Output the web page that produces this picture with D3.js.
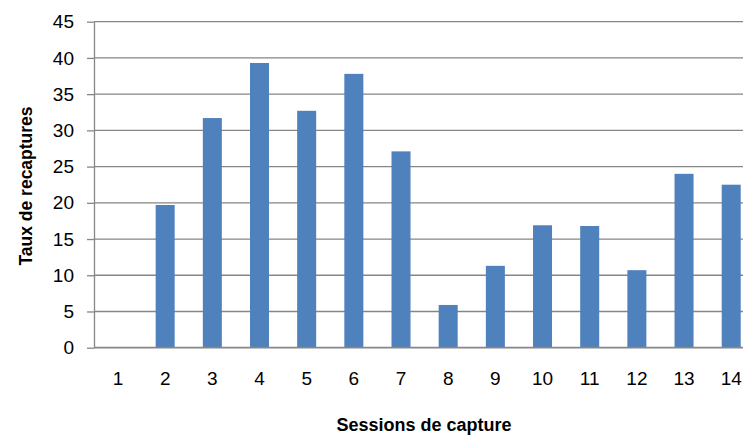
<!DOCTYPE html>
<html><head><meta charset="utf-8">
<script src="https://cdn.jsdelivr.net/npm/d3@7"></script>
<style>body{margin:0;background:#fff}svg{display:block}</style>
</head><body>
<script>
const categories = ["1","2","3","4","5","6","7","8","9","10","11","12","13","14"];
const values = [0,19.7,31.7,39.3,32.7,37.8,27.1,5.9,11.3,16.9,16.8,10.7,24.0,22.5];
const yTicks = [0,5,10,15,20,25,30,35,40,45];
const xTitle = "Sessions de capture";
const yTitle = "Taux de recaptures";

const W = 755, H = 435;
const m = {left:94, right:12, top:21.7, bottom:87.3};
const svg = d3.select("body").append("svg").attr("width",W).attr("height",H);
const x = d3.scaleBand().domain(categories).range([94.4, 754.8]).paddingInner(0.597).paddingOuter(0.2985);
const y = d3.scaleLinear().domain([0,45]).range([H-m.bottom, m.top]);
const grid = "#868686";
const font = "'Liberation Sans', Arial, sans-serif";

// gridlines + y ticks
const ya = svg.append("g").attr("transform",`translate(${m.left},0)`)
  .call(d3.axisLeft(y).tickValues(yTicks).tickSize(7).tickPadding(13).tickSizeOuter(0));
ya.select(".domain").attr("stroke",grid).attr("stroke-width",1.3);
ya.selectAll(".tick line").attr("stroke",grid).attr("stroke-width",1.3);
ya.selectAll(".tick text").attr("font-family",font).attr("font-size",19).attr("fill","#000");
svg.append("g").selectAll("line").data(yTicks.filter(d=>d>0)).join("line")
  .attr("x1",m.left).attr("x2",W-m.right).attr("y1",d=>y(d)).attr("y2",d=>y(d))
  .attr("stroke",grid).attr("stroke-width",1.3);

// bars
svg.append("g").selectAll("rect").data(categories).join("rect")
  .attr("x",(d)=>x(d)).attr("width",x.bandwidth())
  .attr("y",(d,i)=>y(values[i])).attr("height",(d,i)=>y(0)-y(values[i]))
  .attr("fill","#4F81BD");

// x axis
const xa = svg.append("g").attr("transform",`translate(0,${y(0)})`)
  .call(d3.axisBottom(x).tickSize(0).tickPadding(24).tickSizeOuter(0));
xa.select(".domain").remove();
svg.append("line").attr("x1",m.left).attr("x2",W-m.right).attr("y1",y(0)).attr("y2",y(0))
  .attr("stroke",grid).attr("stroke-width",1.8);
xa.selectAll(".tick text").attr("font-family",font).attr("font-size",19).attr("fill","#000");

// titles
svg.append("text").attr("x",424).attr("y",431).attr("text-anchor","middle")
  .attr("font-family",font).attr("font-weight","bold").attr("font-size",18).text(xTitle);
svg.append("text").attr("transform","translate(32,186) rotate(-90)").attr("text-anchor","middle")
  .attr("font-family",font).attr("font-weight","bold").attr("font-size",17.5).text(yTitle);
</script>
</body></html>
